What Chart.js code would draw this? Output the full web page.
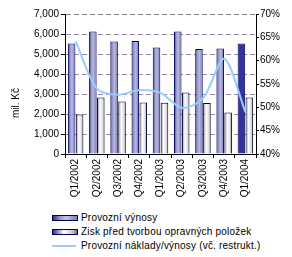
<!DOCTYPE html>
<html>
<head>
<meta charset="utf-8">
<script src="https://cdn.jsdelivr.net/npm/chart.js@4"></script>
<style>
  body { margin: 0; background: #fff; width: 292px; height: 257px; overflow: hidden; position: relative; font-family: 'Liberation Sans', Arial, sans-serif; }
  #wrap { position: absolute; left: 0; top: 0; width: 292px; height: 208px; }
  .leg { position: absolute; left: 52px; height: 13px; font-size: 10px; line-height: 13px; color: #000; white-space: nowrap; }
  .leg i { position: absolute; left: 0; top: 4px; width: 24px; height: 4px; border: 1px solid #000066; }
  .leg span { position: absolute; left: 29px; top: 0; letter-spacing: 0.2px; }
</style>
</head>
<body>
<div id="wrap"><canvas id="grafico" width="292" height="208"></canvas></div>
<div class="leg" style="top:211px"><i style="background:linear-gradient(90deg,#33337a,#9999cc 30%,#c4c4e6 55%,#7d7db0)"></i><span>Provozní výnosy</span></div>
<div class="leg" style="top:225px"><i style="background:linear-gradient(90deg,#33337a,#ffffff 45%,#cccccc 80%,#666688)"></i><span>Zisk před tvorbou opravných položek</span></div>
<div class="leg" style="top:239px"><i style="border:none;height:2px;top:6px;background:#99ccff"></i><span>Provozní náklady/výnosy (vč. restrukt.)</span></div>
<script>
// === datos ===
const kvartaly = ['Q1/2002', 'Q2/2002', 'Q3/2002', 'Q4/2002', 'Q1/2003', 'Q2/2003', 'Q3/2003', 'Q4/2003', 'Q1/2004'];
const vynosy = [5530, 6130, 5630, 5650, 5330, 6130, 5250, 5280, 5520];
const zisk = [1970, 2830, 2630, 2580, 2560, 3080, 2550, 2080, 2830];
const nakladyVynosy = [64.2, 54.0, 52.7, 53.7, 53.1, 49.9, 51.9, 60.4, 49.0];

const catPct = 0.75;
const barPct = 0.95;

// gradient na sloupec podle pozice kategorie
function barGradient(ctx, side, stops, fallback) {
    const chart = ctx.chart;
    const x = chart.scales && chart.scales.x;
    if (!x || ctx.dataIndex === undefined || !chart.chartArea) return fallback;
    const w = x.width / kvartaly.length;
    const center = x.getPixelForValue(ctx.dataIndex) + side * w * catPct / 4;
    const half = w * catPct / 4 * barPct;
    const g = chart.ctx.createLinearGradient(center - half, 0, center + half, 0);
    stops.forEach(s => g.addColorStop(s[0], s[1]));
    return g;
}

const titlePlugin = {
    id: 'yTitle',
    afterDraw(chart) {
        const c = chart.ctx;
        c.save();
        c.translate(16, 103);
        c.rotate(-Math.PI / 2);
        c.font = '10px "Liberation Sans", Arial, sans-serif';
        c.fillStyle = '#000';
        c.textAlign = 'center';
        c.textBaseline = 'middle';
        c.fillText('mil. Kč', 0, 0);
        c.restore();
    }
};

const ctxBar = document.getElementById('grafico').getContext('2d');
new Chart(ctxBar, {
    type: 'bar',
    data: {
        labels: kvartaly,
        datasets: [{
            type: 'line',
            label: 'Provozní náklady/výnosy (vč. restrukt.)',
            data: nakladyVynosy,
            yAxisID: 'y1',
            borderColor: '#99ccff',
            borderWidth: 2,
            pointRadius: 0,
            tension: 0.3,
            order: 0
        }, {
            label: 'Provozní výnosy',
            data: vynosy,
            yAxisID: 'y',
            backgroundColor: ctx => ctx.dataIndex === kvartaly.length - 1 ? '#333399' :
                barGradient(ctx, -1, [[0, '#33337a'], [0.3, '#9999cc'], [0.55, '#b8b8e0'], [0.85, '#8a8abb'], [1, '#55558a']], '#9999cc'),
            borderColor: '#000066',
            borderWidth: 1,
            categoryPercentage: catPct,
            barPercentage: barPct,
            order: 1
        }, {
            label: 'Zisk před tvorbou opravných položek',
            data: zisk,
            yAxisID: 'y',
            backgroundColor: ctx => barGradient(ctx, 1, [[0, '#888899'], [0.4, '#ffffff'], [0.75, '#dddddd'], [1, '#888888']], '#eeeeee'),
            borderColor: '#000033',
            borderWidth: 1,
            categoryPercentage: catPct,
            barPercentage: barPct,
            order: 2
        }]
    },
    plugins: [titlePlugin],
    options: {
        responsive: false,
        animation: false,
        layout: { padding: { top: 14, left: 0, right: 0, bottom: 0 } },
        plugins: {
            legend: { display: false },
            tooltip: { enabled: false }
        },
        scales: {
            x: {
                afterFit: s => { s.height = 54; },
                grid: { display: true, drawOnChartArea: false, drawTicks: true, tickLength: 4, color: '#000', offset: true },
                border: { display: true, color: '#000', width: 1 },
                ticks: {
                    color: '#000', minRotation: 90, maxRotation: 90, padding: 1,
                    font: { family: 'Liberation Sans', size: 10 }
                }
            },
            y: {
                position: 'left',
                min: 0, max: 7000,
                afterFit: s => { s.width = 65; },
                grid: {
                    color: ctx => ctx.tick && ctx.tick.value === 7000 ? '#808080' : '#9c8ca8',
                    tickColor: '#000', tickLength: 4, lineWidth: 1
                },
                border: { display: true, color: '#000', width: 1, dash: [5, 3] },
                ticks: {
                    stepSize: 1000, color: '#000', padding: 2,
                    font: { family: 'Liberation Sans', size: 10 },
                    callback: v => v.toLocaleString('en-US')
                }
            },
            y1: {
                position: 'right',
                min: 40, max: 70,
                afterFit: s => { s.width = 36; },
                grid: { drawOnChartArea: false, drawTicks: true, tickLength: 3, tickColor: '#000' },
                border: { display: true, color: '#000', width: 1 },
                ticks: {
                    stepSize: 5, color: '#000', padding: 1,
                    font: { family: 'Liberation Sans', size: 10 },
                    callback: v => v + '%'
                }
            }
        }
    }
});
</script>
</body>
</html>
